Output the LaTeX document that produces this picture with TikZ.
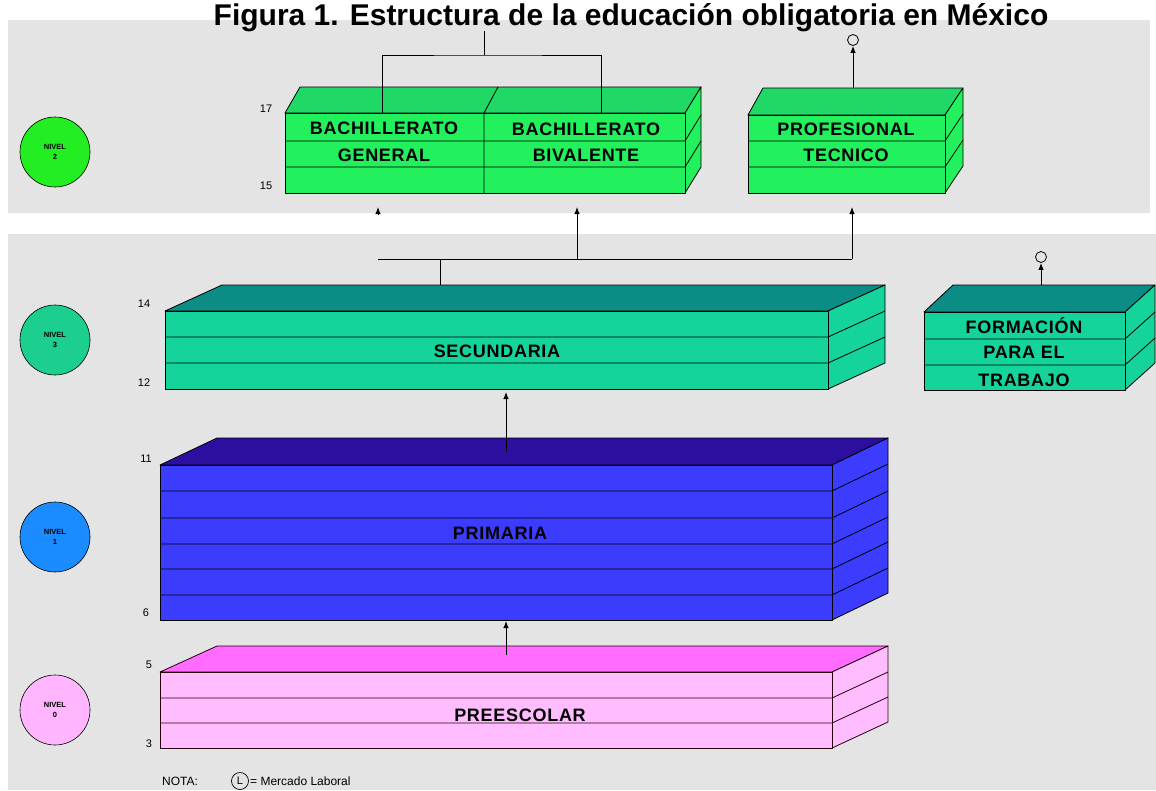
\documentclass[tikz,border=0pt]{standalone}
\usepackage{fontspec}
\setmainfont{Liberation Sans}
\newfontfamily\cajafont[LetterSpace=4]{Liberation Sans}
\usetikzlibrary{arrows.meta}

\definecolor{panelgray}{HTML}{E4E4E4}
\definecolor{bachFront}{HTML}{22F05C}
\definecolor{bachTop}{HTML}{1FD865}
\definecolor{secFront}{HTML}{14D49C}
\definecolor{secTop}{HTML}{0B8C84}
\definecolor{priFront}{HTML}{3C3CFF}
\definecolor{priTop}{HTML}{2C0F9E}
\definecolor{preFront}{HTML}{FFBCFF}
\definecolor{preTop}{HTML}{FF6CFF}
\definecolor{niv2}{HTML}{22EE22}
\definecolor{niv3}{HTML}{1CCF8F}
\definecolor{niv1}{HTML}{1A8CFF}
\definecolor{niv0}{HTML}{FFB6FF}

\tikzset{
  caja/.style={draw=black,line width=0.8pt,line join=round},
  nivel/.style={circle,draw=black,line width=0.6pt,minimum size=70pt,inner sep=0pt,align=center,font=\bfseries\fontsize{7.5}{10}\selectfont},
  lbl/.style={inner sep=0pt,font=\cajafont\bfseries\fontsize{18}{19}\selectfont},
  edad/.style={inner sep=0pt,font=\fontsize{11}{13}\selectfont},
  arr/.style={-{Latex[length=7pt,width=5.5pt]},line width=1pt},
  lcirc/.style={circle,draw=black,line width=0.8pt,minimum size=11pt,inner sep=0pt},
}

\begin{document}
\begin{tikzpicture}[x=1pt,y=-1pt]
\useasboundingbox (0,0) rectangle (1156,790);
\fill[white] (0,0) rectangle (1156,790);
\fill[panelgray] (8,20) rectangle (1150,213);
\fill[panelgray] (8,234) rectangle (1156,790);

\node[anchor=base,inner sep=0pt,font=\bfseries\fontsize{30}{32}\selectfont] (titulo) at (631,25) {Figura 1. Estructura de la educación obligatoria en México};

% niveles
\node[nivel,fill=niv2] (n2) at (55,152) {NIVEL\\2};
\node[nivel,fill=niv3] (n3) at (55,340) {NIVEL\\3};
\node[nivel,fill=niv1] (n1) at (55,537) {NIVEL\\1};
\node[nivel,fill=niv0] (n0) at (55,710) {NIVEL\\0};

% bachillerato general / bivalente
\begin{scope}[shift={(285,113)}]
\filldraw[caja,fill=bachTop] (0,0) -- (15,-26) -- (416,-26) -- (400,0) -- cycle;
\filldraw[caja,fill=bachFront] (400,0) -- (416,-26) -- (416,54) -- (400,80) -- cycle;
\filldraw[caja,fill=bachFront] (0,0) rectangle (400,80);
\draw[caja] (0,28) -- (400,28) -- (416,2);
\draw[caja] (0,54) -- (400,54) -- (416,28);
\draw[caja] (199,80) -- (199,0) -- (213,-26);
\end{scope}

% profesional tecnico
\begin{scope}[shift={(748,115)}]
\filldraw[caja,fill=bachTop] (0,0) -- (15,-27) -- (215,-27) -- (197,0) -- cycle;
\filldraw[caja,fill=bachFront] (197,0) -- (215,-27) -- (215,51) -- (197,78) -- cycle;
\filldraw[caja,fill=bachFront] (0,0) rectangle (197,78);
\draw[caja] (0,26) -- (197,26) -- (215,-1);
\draw[caja] (0,52) -- (197,52) -- (215,25);
\end{scope}

% secundaria
\begin{scope}[shift={(165,311)}]
\filldraw[caja,fill=secTop] (0,0) -- (57,-26) -- (720,-26) -- (663,0) -- cycle;
\filldraw[caja,fill=secFront] (663,0) -- (720,-26) -- (720,52) -- (663,78) -- cycle;
\filldraw[caja,fill=secFront] (0,0) rectangle (663,78);
\draw[caja] (0,26) -- (663,26) -- (720,0);
\draw[caja] (0,52) -- (663,52) -- (720,26);
\end{scope}

% formacion para el trabajo
\begin{scope}[shift={(924,312)}]
\filldraw[caja,fill=secTop] (0,0) -- (29,-27) -- (231,-27) -- (201,0) -- cycle;
\filldraw[caja,fill=secFront] (201,0) -- (231,-27) -- (231,51) -- (201,78) -- cycle;
\filldraw[caja,fill=secFront] (0,0) rectangle (201,78);
\draw[caja] (0,27) -- (201,27) -- (231,0);
\draw[caja] (0,53) -- (201,53) -- (231,26);
\end{scope}

% primaria
\begin{scope}[shift={(160,465)}]
\filldraw[caja,fill=priTop] (0,0) -- (57,-27) -- (728,-27) -- (672,0) -- cycle;
\filldraw[caja,fill=priFront] (672,0) -- (728,-27) -- (728,128) -- (672,155) -- cycle;
\filldraw[caja,fill=priFront] (0,0) rectangle (672,155);
\draw[caja] (0,26) -- (672,26) -- (728,-1);
\draw[caja] (0,53) -- (672,53) -- (728,26);
\draw[caja] (0,79) -- (672,79) -- (728,52);
\draw[caja] (0,104) -- (672,104) -- (728,77);
\draw[caja] (0,130) -- (672,130) -- (728,103);
\end{scope}

% preescolar
\begin{scope}[shift={(160,672)}]
\filldraw[caja,draw=black!80!purple,fill=preTop] (0,0) -- (57,-26) -- (728,-26) -- (672,0) -- cycle;
\filldraw[caja,draw=black!80!purple,fill=preFront] (672,0) -- (728,-26) -- (728,50) -- (672,76) -- cycle;
\filldraw[caja,draw=black!80!purple,fill=preFront] (0,0) rectangle (672,76);
\draw[caja,draw=black!80!purple] (0,26) -- (672,26) -- (728,0);
\draw[caja,draw=black!80!purple] (0,51) -- (672,51) -- (728,25);
\end{scope}

% textos de las cajas
\node[lbl] (bg1) at (384,128) {BACHILLERATO};
\node[lbl] (bg2) at (384,155) {GENERAL};
\node[lbl] (bv1) at (586,129) {BACHILLERATO};
\node[lbl] (bv2) at (586,155) {BIVALENTE};
\node[lbl] (pt1) at (846,129) {PROFESIONAL};
\node[lbl] (pt2) at (846,155) {TECNICO};
\node[lbl] (sec) at (497,351) {SECUNDARIA};
\node[lbl] (ft1) at (1024,326) {FORMACIÓN};
\node[lbl] (ft2) at (1024,352) {PARA EL};
\node[lbl] (ft3) at (1024,380) {TRABAJO};
\node[lbl] (pri) at (500,533) {PRIMARIA};
\node[lbl] (pre) at (520,715) {PREESCOLAR};

% edades
\node[edad] (e17) at (266,109) {17};
\node[edad] (e15) at (266,186) {15};
\node[edad] (e14) at (144,304) {14};
\node[edad] (e12) at (144,383) {12};
\node[edad] (e11) at (146,459) {11};
\node[edad] (e6) at (146,613) {6};
\node[edad] (e5) at (149,665) {5};
\node[edad] (e3) at (149,744) {3};

% conectores
\coordinate (entrada) at (484,31);
\coordinate (reparto) at (484,55);
\coordinate (bgIn) at (382,113);
\coordinate (bvIn) at (601,113);
\draw[line width=1pt] (entrada) -- (reparto);
\draw[line width=1pt] (bgIn) |- (reparto) -| (bvIn);

\coordinate (secOut) at (440,285);
\coordinate (secJoin) at (440,259);
\coordinate (izq) at (378,259);
\coordinate (der) at (852,259);
\coordinate (bvBot) at (577,207);
\coordinate (ptBot) at (852,207);
\coordinate (bgBot) at (378,207);
\draw[line width=1pt] (secOut) -- (secJoin);
\draw[line width=1pt] (izq) -- (der);
\draw[arr] (577,259) -- (bvBot);
\draw[arr] (der) -- (ptBot);
\draw[arr] ([yshift=-7pt]bgBot) -- (bgBot);

\coordinate (priOut) at (506,452);
\coordinate (secIn) at (506,392);
\draw[arr] (priOut) -- (secIn);
\coordinate (preOut) at (506,655);
\coordinate (priIn) at (506,621);
\draw[arr] (preOut) -- (priIn);

\node[lcirc] (lpt) at (853,40) {};
\coordinate (ptOut) at (853,88);
\draw[arr] (ptOut) -- (lpt.south);
\node[lcirc] (lft) at (1041,257) {};
\coordinate (ftOut) at (1041,285);
\draw[arr] (ftOut) -- (lft.south);

% nota
\node[anchor=west,inner sep=0pt,font=\fontsize{12}{14}\selectfont] (nota) at (162,781) {NOTA:};
\node[circle,draw=black,line width=0.7pt,minimum size=17pt,inner sep=0pt,font=\fontsize{11}{13}\selectfont] (lnota) at (240,781) {L};
\node[anchor=west,inner sep=0pt,font=\fontsize{12}{14}\selectfont] (merc) at (250,781) {= Mercado Laboral};
\end{tikzpicture}
\end{document}
